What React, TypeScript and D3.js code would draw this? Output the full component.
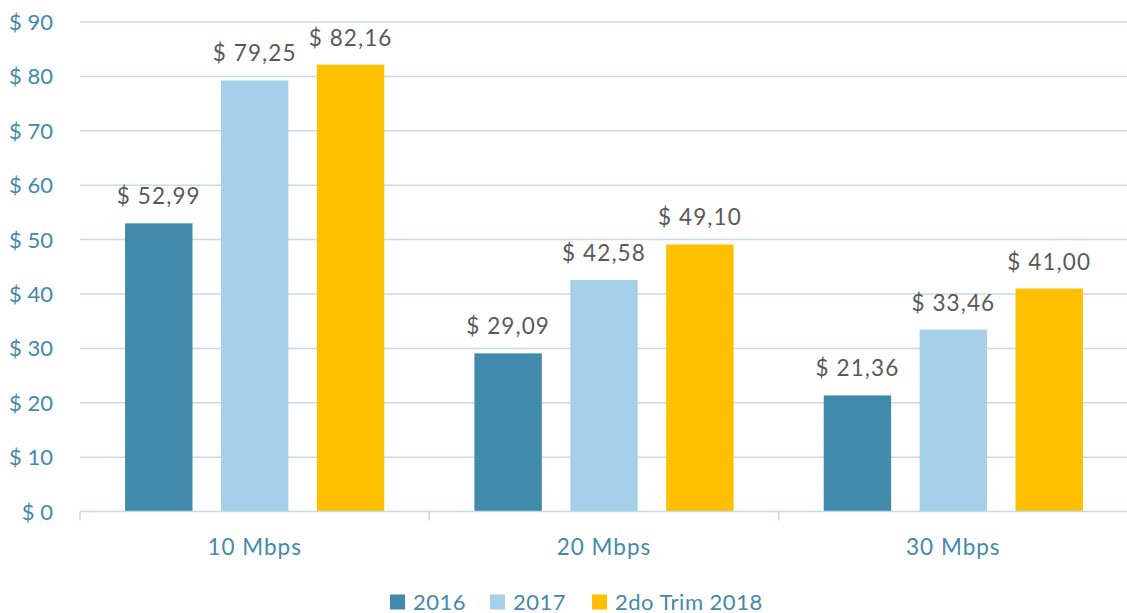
import React from "react";
import * as d3 from "d3";

const categories = ["10 Mbps", "20 Mbps", "30 Mbps"];
const seriesNames = ["2016", "2017", "2do Trim 2018"];
const values2016 = [52.99, 29.09, 21.36];
const values2017 = [79.25, 42.58, 33.46];
const values2018 = [82.16, 49.1, 41.0];
const yTicks = [0, 10, 20, 30, 40, 50, 60, 70, 80, 90];
const colors = ["#418AAB", "#A6CFE8", "#FFC000"];

const W = 1127;
const H = 613;
const FONT = "Lato, 'Open Sans', sans-serif";

export default function App() {
  const seriesValues = [values2016, values2017, values2018];
  const left = 80;
  const right = 1128;
  const top = 22;
  const bottom = 511.6;

  const y = d3.scaleLinear().domain([0, 90]).range([bottom, top]);
  const x0 = d3.scaleBand<string>().domain(categories).range([left, right]).paddingInner(0).paddingOuter(0);
  const x1 = d3
    .scaleBand<string>()
    .domain(seriesNames)
    .range([0, x0.bandwidth()])
    .paddingInner(0.297)
    .paddingOuter(0.47);

  const fmt = (v: number) => "$ " + v.toFixed(2).replace(".", ",");

  const legendItems = [
    { name: seriesNames[0], x: 390 },
    { name: seriesNames[1], x: 490 },
    { name: seriesNames[2], x: 592 },
  ];

  const boundaries = [...categories.map((c) => x0(c)!), right];

  return (
    <svg
      width={W}
      height={H}
      style={{ position: "absolute", left: 0, top: 0, background: "#fff" }}
      fontFamily={FONT}
    >
      {/* gridlines */}
      {yTicks.slice(1).map((t) => (
        <line key={t} x1={left} x2={right} y1={y(t)} y2={y(t)} stroke="#C2DCEC" strokeWidth={1.5} />
      ))}
      {/* y labels */}
      {yTicks.map((t) => (
        <text
          key={"yl" + t}
          x={53}
          y={y(t)}
          dy="0.36em"
          textAnchor="end"
          fontSize={22}
          fill="#4489AA"
        >
          {"$ " + t}
        </text>
      ))}
      {/* bars */}
      {categories.map((c, ci) =>
        seriesNames.map((s, si) => {
          const v = seriesValues[si][ci];
          const bx = x0(c)! + x1(s)!;
          return (
            <g key={c + s}>
              <rect x={bx} y={y(v)} width={x1.bandwidth()} height={y(0) - y(v)} fill={colors[si]} />
              <text
                x={bx + x1.bandwidth() / 2}
                y={y(v) - 19}
                textAnchor="middle"
                fontSize={22.5}
                letterSpacing={1.1}
                fill="#595959"
              >
                {fmt(v)}
              </text>
            </g>
          );
        })
      )}
      {/* x axis */}
      <line x1={left} x2={right} y1={y(0)} y2={y(0)} stroke="#C2DCEC" strokeWidth={1.5} />
      {boundaries.map((b, i) => (
        <line key={"tk" + i} x1={b} x2={b} y1={y(0)} y2={y(0) + 9} stroke="#C2DCEC" strokeWidth={1.5} />
      ))}
      {categories.map((c) => (
        <text
          key={"xl" + c}
          x={x0(c)! + x0.bandwidth() / 2}
          y={555}
          textAnchor="middle"
          fontSize={22.5}
          letterSpacing={1}
          fill="#4489AA"
        >
          {c}
        </text>
      ))}
      {/* legend */}
      {legendItems.map((l, i) => (
        <g key={"lg" + l.name}>
          <rect x={l.x} y={594.5} width={15} height={15} fill={colors[i]} />
          <text x={l.x + 23} y={609.5} fontSize={22} letterSpacing={0.5} fill="#4489AA">
            {l.name}
          </text>
        </g>
      ))}
    </svg>
  );
}
